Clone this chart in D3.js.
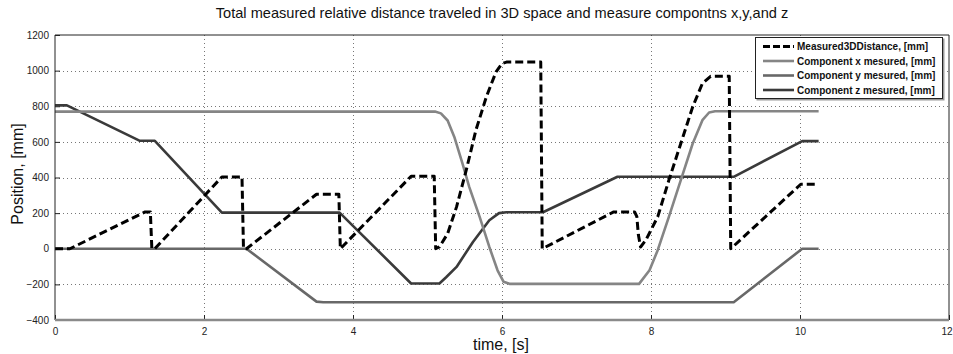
<!DOCTYPE html>
<html>
<head>
<meta charset="utf-8">
<script src="https://cdn.jsdelivr.net/npm/d3@7"></script>
<style>
  body { margin: 0; background: #fff; }
  svg { display: block; font-family: "Liberation Sans", Arial, sans-serif; }
</style>
</head>
<body>
<svg id="chart" width="953" height="354"></svg>
<script>
// values: [time s, position mm]
const distPts = [[0,0],[0.2,0],[1.21,207],[1.28,207],[1.30,0],[1.34,0],[2.24,403],[2.51,403],[2.53,0],[2.57,0],
  [3.51,306],[3.81,306],[3.83,0],[4.78,407],[5.09,407],[5.11,0],[5.16,10],[5.27,85],[5.39,235],[5.52,441],
  [5.65,666],[5.79,853],[5.92,993],[6.0,1040],[6.06,1048],[6.52,1048],[6.54,0],[7.5,207],[7.78,207],[7.81,180],
  [7.83,80],[7.86,10],[7.93,48],[8.09,179],[8.24,385],[8.40,591],[8.56,797],[8.69,928],[8.80,968],[9.05,968],
  [9.07,0],[10.01,362],[10.25,362]];
const xPts = [[0,770],[5.10,770],[5.18,760],[5.27,720],[5.36,628],[5.47,478],[5.56,347],[5.70,179],[5.83,10],[5.94,-121],
  [6.02,-185],[6.1,-197],[7.84,-197],[7.98,-121],[8.09,-8],[8.24,179],[8.40,385],[8.56,591],[8.69,722],[8.78,765],
  [8.86,772],[10.25,772]];
const yPts = [[0,0],[2.57,0],[3.51,-297],[3.6,-300],[9.11,-300],[10.03,0],[10.25,0]];
const zPts = [[0,805],[0.16,805],[1.14,606],[1.34,606],[2.24,203],[3.82,203],[4.78,-195],[5.16,-195],[5.25,-160],
  [5.39,-102],[5.61,38],[5.83,160],[5.96,200],[6.06,205],[6.55,205],[7.55,404],[9.11,404],[10.03,604],[10.25,604]];

const xTicks = [0,2,4,6,8,10,12];
const yTicks = [-400,-200,0,200,400,600,800,1000,1200];

const series = [
  { name: "Measured3DDistance, [mm]", pts: distPts, color: "#000", width: 3, dash: "8,4" },
  { name: "Component x mesured, [mm]", pts: xPts, color: "#858585", width: 2.6, dash: null },
  { name: "Component y mesured, [mm]", pts: yPts, color: "#686868", width: 2.6, dash: null },
  { name: "Component z mesured, [mm]", pts: zPts, color: "#3a3a3a", width: 2.6, dash: null }
];

const svg = d3.select("#chart");
const L = 55, R = 949, T = 35, B = 320;

const x = d3.scaleLinear().domain([0, 12]).range([L, R]);
const y = d3.scaleLinear().domain([-400, 1200]).range([B, T]);

// grid
const grid = svg.append("g").attr("stroke", "#777").attr("stroke-width", 1).attr("stroke-dasharray", "1,3");
grid.selectAll(".gx").data(xTicks.slice(1, -1)).enter().append("line")
  .attr("x1", d => Math.round(x(d)) + 0.5).attr("x2", d => Math.round(x(d)) + 0.5)
  .attr("y1", T).attr("y2", B);
grid.selectAll(".gy").data(yTicks.slice(1, -1)).enter().append("line")
  .attr("y1", d => Math.round(y(d)) + 0.5).attr("y2", d => Math.round(y(d)) + 0.5)
  .attr("x1", L).attr("x2", R);

// axes
const xAxis = svg.append("g").attr("transform", `translate(0,${B})`)
  .call(d3.axisBottom(x).tickValues(xTicks).tickFormat(d3.format("d")).tickSize(-5).tickPadding(8));
const yAxis = svg.append("g").attr("transform", `translate(${L},0)`)
  .call(d3.axisLeft(y).tickValues(yTicks).tickFormat(d3.format("d")).tickSize(-5).tickPadding(6));
[xAxis, yAxis].forEach(a => {
  a.select(".domain").remove();
  a.selectAll("text").attr("font-size", 10).attr("fill", "#222")
    .attr("font-family", "'Liberation Sans', Arial, sans-serif");
  a.selectAll("line").attr("stroke", "#222");
});
// last x label sits at the right edge, keep it inside the picture
xAxis.selectAll(".tick text").filter(d => d === 12).attr("text-anchor", "end").attr("dx", 3);

// lines
const line = d3.line().x(d => x(d[0])).y(d => y(d[1]));
const plot = svg.append("g");
series.slice().reverse().forEach(s => {
  plot.append("path").datum(s.pts)
    .attr("d", line)
    .attr("fill", "none")
    .attr("stroke", s.color)
    .attr("stroke-width", s.width)
    .attr("stroke-linejoin", "round")
    .attr("stroke-dasharray", s.dash);
});

// frame
svg.append("path").attr("d", `M${L},${B}V${T}H${R}V${B}`)
  .attr("fill", "none").attr("stroke", "#222").attr("stroke-width", 1);
svg.append("line").attr("x1", L).attr("x2", R).attr("y1", B).attr("y2", B)
  .attr("stroke", "#8a8a8a").attr("stroke-width", 2.5);

// labels
svg.append("text").attr("x", 502).attr("y", 18).attr("text-anchor", "middle")
  .attr("font-size", 14.6).attr("fill", "#111")
  .text("Total measured relative distance traveled in 3D space and measure compontns x,y,and z");
svg.append("text").attr("x", 501).attr("y", 350).attr("text-anchor", "middle")
  .attr("font-size", 16).attr("fill", "#111").text("time, [s]");
svg.append("text").attr("transform", "translate(23,174) rotate(-90)").attr("text-anchor", "middle")
  .attr("font-size", 16).attr("fill", "#111").text("Position, [mm]");

// legend
const lg = svg.append("g").attr("transform", "translate(755,37)");
lg.append("rect").attr("x", 1.5).attr("y", 1.5).attr("width", 188).attr("height", 62).attr("fill", "#999");
lg.append("rect").attr("x", 0.5).attr("y", 0.5).attr("width", 187).attr("height", 61)
  .attr("fill", "#fff").attr("stroke", "#222");
series.forEach((s, i) => {
  const cy = 9.5 + i * 14.5;
  lg.append("line").attr("x1", 8).attr("x2", 39).attr("y1", cy).attr("y2", cy)
    .attr("stroke", s.color).attr("stroke-width", s.width).attr("stroke-dasharray", s.dash ? "7,3" : null);
  lg.append("text").attr("x", 42).attr("y", cy + 3.5).attr("font-size", 10).attr("font-weight", "bold")
    .attr("fill", "#111").text(s.name);
});
</script>
</body>
</html>
